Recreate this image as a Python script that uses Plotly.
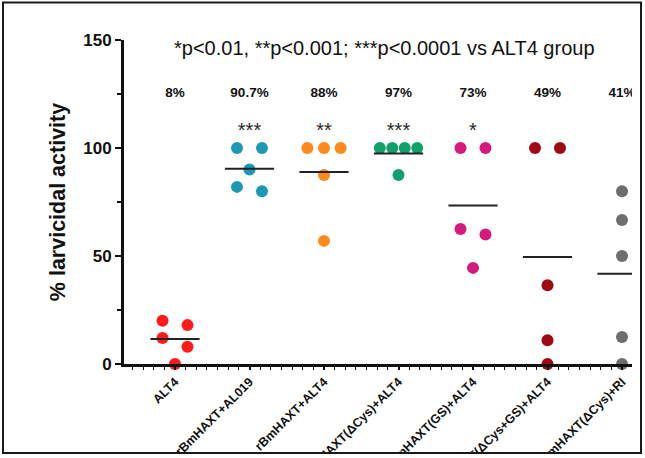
import plotly.graph_objects as go

categories = ["ALT4", "rBmHAXT+AL019", "rBmHAXT+ALT4", "rBmHAXT(ΔCys)+ALT4",
              "rBmHAXT(GS)+ALT4", "rBmHAXT(ΔCys+GS)+ALT4", "rBmHAXT(ΔCys)+RI"]
alt4 = [20, 18, 12, 8, 0]
haxt_al019 = [100, 100, 90, 82, 80]
haxt_alt4 = [100, 100, 100, 87.5, 57]
dcys_alt4 = [100, 100, 100, 100, 87.5]
gs_alt4 = [100, 100, 62.5, 60, 44.5]
dcys_gs_alt4 = [100, 100, 36.5, 11, 0]
dcys_ri = [80, 66.7, 50, 12.5, 0]
groups = [alt4, haxt_al019, haxt_alt4, dcys_alt4, gs_alt4, dcys_gs_alt4, dcys_ri]
pct_labels = ["8%", "90.7%", "88%", "97%", "73%", "49%", "41%"]
star_labels = ["", "***", "**", "***", "*", "", ""]
colors = ["#FF1A1A", "#1C98B6", "#FF8A1C", "#10A06C", "#D41A7C", "#A00814", "#6E6E6E"]

FONT = "Arial, Liberation Sans, sans-serif"


def swarm_offsets(vals, thresh=5.0, width=0.67):
    order = sorted(range(len(vals)), key=lambda i: -vals[i])
    rows, cur = [], []
    for i in order:
        if cur and vals[cur[0]] - vals[i] > thresh:
            rows.append(cur)
            cur = []
        cur.append(i)
    if cur:
        rows.append(cur)
    offs = [0.0] * len(vals)
    for r in rows:
        n = len(r)
        sp = width / n
        for k, i in enumerate(r):
            offs[i] = (k - (n - 1) / 2) * sp if n > 1 else 0.0
    return offs


fig = go.Figure()
for gi, vals in enumerate(groups):
    offs = swarm_offsets(vals)
    fig.add_trace(go.Scatter(
        x=[gi + o for o in offs], y=vals, mode="markers",
        marker=dict(color=colors[gi], size=12, line=dict(width=0)),
        cliponaxis=False, showlegend=False, hoverinfo="y"))
    m = sum(vals) / len(vals)
    fig.add_trace(go.Scatter(
        x=[gi - 0.33, gi + 0.33], y=[m, m], mode="lines",
        line=dict(color="#222222", width=2), cliponaxis=False,
        showlegend=False, hoverinfo="skip"))

xs = list(range(len(categories)))
fig.add_trace(go.Scatter(
    x=xs, y=[125] * len(xs), mode="text", text=pct_labels,
    textfont=dict(family=FONT, size=13.5, color="#111111"),
    texttemplate="<b>%{text}</b>", cliponaxis=True,
    showlegend=False, hoverinfo="skip"))
fig.add_trace(go.Scatter(
    x=xs, y=[107.5] * len(xs), mode="text", text=star_labels,
    textfont=dict(family=FONT, size=20, color="#2a2a2a"),
    cliponaxis=True, showlegend=False, hoverinfo="skip"))

fig.add_annotation(
    x=(384 - 124) / 508, xref="paper", y=146.5, yref="y",
    text="*p<0.01, **p<0.001; ***p<0.0001 vs ALT4 group",
    showarrow=False, font=dict(family=FONT, size=20, color="#111111"),
    xanchor="center", yanchor="middle")

# frame around the picture
fig.add_shape(type="rect", xref="paper", yref="paper",
              x0=(642 - 124) / 508, x1=(660 - 124) / 508,
              y0=-0.4, y1=1.2, fillcolor="white", line=dict(width=0), layer="above")
fig.add_shape(type="rect", xref="paper", yref="paper",
              x0=-0.3, x1=1.1, y0=(364 - 453) / 324, y1=(364 - 470) / 324,
              fillcolor="white", line=dict(width=0), layer="above")
fig.add_shape(type="rect", xref="paper", yref="paper",
              x0=(3 - 124) / 508, x1=(641 - 124) / 508,
              y0=(364 - 453) / 324, y1=(364 - 2.5) / 324,
              line=dict(color="#1a1a1a", width=2), layer="above")

fig.update_layout(
    width=645, height=458,
    margin=dict(l=124, r=13, t=40, b=94, autoexpand=False),
    paper_bgcolor="white", plot_bgcolor="white",
    font=dict(family=FONT, color="#111111"),
    xaxis=dict(
        automargin=False,
        range=[-51 / 74.5, (632 - 175) / 74.5],
        tickmode="array", tickvals=xs, ticktext=[f"<b>{c}</b>" for c in categories],
        tickangle=-45, tickfont=dict(family=FONT, size=12.5, color="#111111"),
        showgrid=False, zeroline=False, showline=True, linecolor="#111111", linewidth=2.5,
        ticks="outside", ticklen=3, tickwidth=2, tickcolor="#111111",
        minor=dict(dtick=1 / 7, tick0=0, ticks="outside", ticklen=3, tickwidth=1,
                   tickcolor="#111111", showgrid=False),
    ),
    yaxis=dict(
        automargin=False,
        range=[0, 150], tickvals=[0, 50, 100, 150],
        ticktext=["<b>0</b>", "<b>50</b>", "<b>100</b>", "<b>150</b>"],
        tickfont=dict(family=FONT, size=17, color="#111111"),
        showgrid=False, zeroline=False, showline=True, linecolor="#111111", linewidth=3,
        ticks="outside", ticklen=6, tickwidth=2, tickcolor="#111111",
        minor=dict(dtick=25, tick0=0, ticks="outside", ticklen=4, tickwidth=1.5,
                   tickcolor="#111111", showgrid=False),
        title=dict(text="<b>% larvicidal activity</b>", standoff=12,
                   font=dict(family=FONT, size=21.5, color="#111111")),
    ),
)

fig.write_html("out.html")
